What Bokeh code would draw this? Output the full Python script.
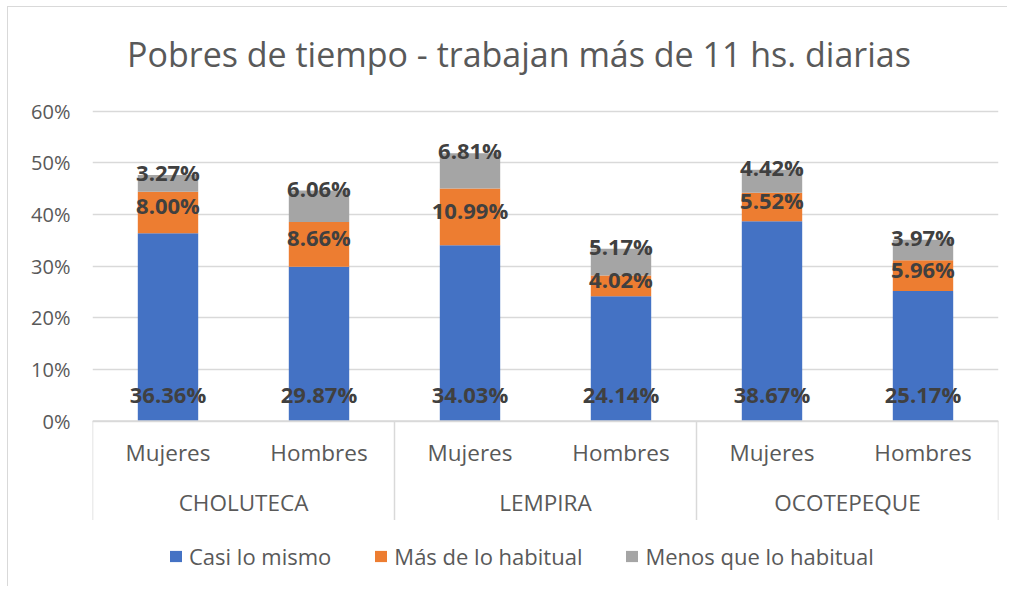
import numpy as np
from bokeh.plotting import figure
from bokeh.models import (ColumnDataSource, FixedTicker, NumeralTickFormatter,
                          Legend, LegendItem, Range1d)
from bokeh.core.properties import value
from bokeh.embed import file_html
from bokeh.resources import INLINE

# ---------------- data ----------------
regions = ["CHOLUTECA", "LEMPIRA", "OCOTEPEQUE"]
sexes = ["Mujeres", "Hombres"]
series_names = ["Casi lo mismo", "Más de lo habitual", "Menos que lo habitual"]
casi = [36.36, 29.87, 34.03, 24.14, 38.67, 25.17]
mas = [8.00, 8.66, 10.99, 4.02, 5.52, 5.96]
menos = [3.27, 6.06, 6.81, 5.17, 4.42, 3.97]
y_ticks = [0.0, 0.1, 0.2, 0.3, 0.4, 0.5, 0.6]
title_text = "Pobres de tiempo - trabajan más de 11 hs. diarias"

# ---------------- styling / layout ----------------
colors = ["#4472C4", "#ED7D31", "#A5A5A5"]
FONT = "Open Sans"
TXT = "#595959"
LBL = "#404040"
GRID = "#D9D9D9"

FIG_W, FIG_H = 1000, 580
OX, OY = 8.5, 7.5            # page position of the figure's content origin
frame_left_page, frame_right_page = 93, 998
zero_page, sixty_page = 421, 111
px_per_unit = (zero_page - sixty_page) / 0.6

def ydata(page_y):
    return (zero_page - page_y) / px_per_unit

y_top = ydata(OY)
y_bot = ydata(OY + FIG_H)

n_groups = len(regions)
n_sub = len(sexes)
n_cat = n_groups * n_sub
x_per_px = n_cat / (frame_right_page - frame_left_page)

def xdata(page_x):
    return (page_x - frame_left_page) * x_per_px

# ---------------- derived values ----------------
c = np.array(casi) / 100
m = np.array(mas) / 100
g = np.array(menos) / 100
x = np.arange(n_cat) + 0.5
top_g = c + m + g
mid_m = c + m / 2

src = ColumnDataSource(dict(x=x, casi=c, mas=m, menos=g))

p = figure(width=FIG_W, height=FIG_H, output_backend="svg", toolbar_location=None,
           x_range=Range1d(0, n_cat), y_range=Range1d(y_bot, y_top),
           x_axis_location=None,
           min_border_left=int(round(frame_left_page - OX)),
           min_border_right=int(round(FIG_W - (frame_right_page - OX))),
           min_border_top=0, min_border_bottom=0)
p.outline_line_color = None
p.xgrid.visible = False
p.ygrid.ticker = FixedTicker(ticks=y_ticks)
p.ygrid.grid_line_color = GRID
p.ygrid.grid_line_width = 1.5
p.yaxis.ticker = FixedTicker(ticks=y_ticks)
p.yaxis.formatter = NumeralTickFormatter(format="0%")
p.yaxis.axis_line_color = None
p.yaxis.major_tick_line_color = None
p.yaxis.minor_tick_line_color = None
p.yaxis.major_label_standoff = 16
p.yaxis.major_label_text_font = FONT
p.yaxis.major_label_text_font_size = "20px"
p.yaxis.major_label_text_color = TXT

rs = p.vbar_stack(["casi", "mas", "menos"], x="x", width=0.4, color=colors,
                  line_color=None, source=src)

# category axis lines
bounds = np.arange(n_groups + 1) * n_sub
p.segment(x0=[0], y0=[0], x1=[n_cat], y1=[0], line_color=GRID, line_width=1.5)
p.segment(x0=bounds, y0=np.zeros(len(bounds)), x1=bounds,
          y1=np.full(len(bounds), ydata(520)), line_color=GRID, line_width=1.5)

# category labels
cat_kw = dict(text_font=value(FONT), text_font_size="22.5px", text_color=TXT,
              text_align="center", text_baseline="middle")
p.text(x=x, y=np.full(n_cat, ydata(452)), text=sexes * n_groups, **cat_kw)
p.text(x=bounds[:-1] + n_sub / 2, y=np.full(n_groups, ydata(502)), text=regions, **cat_kw)

# data labels
lab_kw = dict(text_font=value(FONT), text_font_size="22px", text_font_style="bold",
              text_color=LBL, text_align="center", text_baseline="middle")
p.text(x=x, y=np.zeros(n_cat), y_offset=-27, text=[f"{v:.2f}%" for v in casi], **lab_kw)
p.text(x=x, y=mid_m, y_offset=-7, text=[f"{v:.2f}%" for v in mas], **lab_kw)
p.text(x=x, y=top_g, y_offset=-3, text=[f"{v:.2f}%" for v in menos], **lab_kw)

# title
p.text(x=[xdata(519)], y=[ydata(54)], text=[title_text], text_font=value(FONT),
       text_font_size="34px", text_color=TXT, text_align="center",
       text_baseline="middle")

legend = Legend(items=[LegendItem(label=n, renderers=[r]) for n, r in zip(series_names, rs)],
                orientation="horizontal", location=(169 - frame_left_page, 16),
                border_line_color=None, background_fill_alpha=0,
                label_text_font=FONT, label_text_font_size="22px",
                label_text_color=TXT, glyph_width=15, glyph_height=14,
                label_standoff=6, spacing=42, padding=0, margin=0)
p.add_layout(legend)

p.styles = {"margin-left": "7px", "margin-top": "6px",
            "border-left": "1.5px solid #D9D9D9", "border-top": "1.5px solid #D9D9D9"}

open("out.html", "w").write(file_html(p, INLINE))
